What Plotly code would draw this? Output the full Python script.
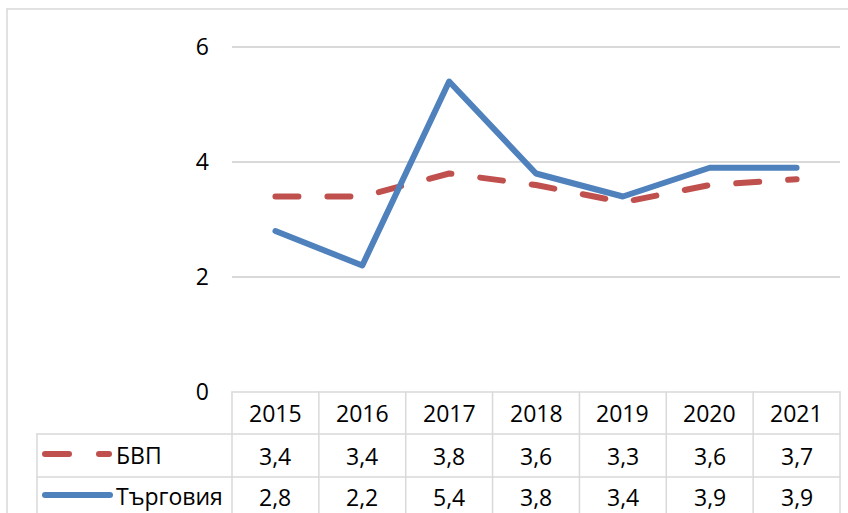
import plotly.graph_objects as go

years = ["2015", "2016", "2017", "2018", "2019", "2020", "2021"]
gdp = [3.4, 3.4, 3.8, 3.6, 3.3, 3.6, 3.7]
trade = [2.8, 2.2, 5.4, 3.8, 3.4, 3.9, 3.9]
series_names = ["БВП", "Търговия"]
y_ticks = [0, 2, 4, 6]

W, H = 848, 513
RED = "#C0504D"
BLUE = "#4F81BD"
GRID = "#D9D9D9"
FONT = "Open Sans"
FS = 23


def px(x):
    return x / W


def py(y):
    return 1 - y / H


def fmt(v):
    return f"{v:.1f}".replace(".", ",")


fig = go.Figure()
fig.add_trace(go.Scatter(x=list(range(len(years))), y=gdp, mode="lines",
                         line=dict(color=RED, width=6, dash="23px,29px"),
                         name=series_names[0]))
fig.add_trace(go.Scatter(x=list(range(len(years))), y=trade, mode="lines",
                         line=dict(color=BLUE, width=6),
                         name=series_names[1]))

shapes = []
ln = dict(color=GRID, width=1.5)
shapes.append(dict(type="line", xref="paper", yref="paper", x0=px(7), x1=1.01, y0=py(9), y1=py(9), line=ln))
shapes.append(dict(type="line", xref="paper", yref="paper", x0=px(7), x1=px(7), y0=py(9), y1=-0.01, line=ln))
col_edges = [232 + i * (840 - 232) / len(years) for i in range(len(years) + 1)]
shapes.append(dict(type="line", xref="paper", yref="paper", x0=px(232), x1=px(840), y0=py(392), y1=py(392), line=ln))
for yy in (434, 477):
    shapes.append(dict(type="line", xref="paper", yref="paper", x0=px(37), x1=px(840), y0=py(yy), y1=py(yy), line=ln))
for xe in col_edges:
    shapes.append(dict(type="line", xref="paper", yref="paper", x0=px(xe), x1=px(xe), y0=py(392), y1=-0.01, line=ln))
shapes.append(dict(type="line", xref="paper", yref="paper", x0=px(37), x1=px(37), y0=py(434), y1=-0.01, line=ln))
shapes.append(dict(type="line", xref="paper", yref="paper", x0=px(45), x1=px(69), y0=py(454), y1=py(454),
                   line=dict(color=RED, width=6)))
shapes.append(dict(type="line", xref="paper", yref="paper", x0=px(99), x1=px(109), y0=py(454), y1=py(454),
                   line=dict(color=RED, width=6)))
shapes.append(dict(type="line", xref="paper", yref="paper", x0=px(45), x1=px(110), y0=py(495), y1=py(495),
                   line=dict(color=BLUE, width=6)))

annotations = []
tf = dict(family=FONT, size=FS, color="#000000")
for i, yr in enumerate(years):
    annotations.append(dict(x=i, y=py(413), xref="x", yref="paper", text=yr, showarrow=False, font=tf,
                            xanchor="center", yanchor="middle"))
    annotations.append(dict(x=i, y=py(456), xref="x", yref="paper", text=fmt(gdp[i]), showarrow=False, font=tf,
                            xanchor="center", yanchor="middle"))
    annotations.append(dict(x=i, y=py(497), xref="x", yref="paper", text=fmt(trade[i]), showarrow=False, font=tf,
                            xanchor="center", yanchor="middle"))
annotations.append(dict(x=px(114), y=py(455), xref="paper", yref="paper", text=series_names[0], showarrow=False,
                        font=tf, xanchor="left", yanchor="middle"))
annotations.append(dict(x=px(114), y=py(496), xref="paper", yref="paper", text=series_names[1], showarrow=False,
                        font=tf, xanchor="left", yanchor="middle"))

fig.update_layout(
    width=W, height=H,
    margin=dict(l=0, r=0, t=0, b=0, pad=0, autoexpand=False),
    paper_bgcolor="white", plot_bgcolor="white",
    showlegend=False,
    shapes=shapes,
    annotations=annotations,
    xaxis=dict(domain=[px(232), px(840)], range=[-0.5, len(years) - 0.5], showticklabels=False,
               showgrid=False, zeroline=False, showline=False, fixedrange=True, automargin=False, ticks=""),
    yaxis=dict(domain=[py(392), py(9)], range=[0, 383 / 57.5], tickvals=y_ticks,
               ticktext=[str(t) for t in y_ticks], showgrid=True, gridcolor=GRID, gridwidth=1.5,
               zeroline=False, showline=False, tickfont=tf, ticks="", ticklabelstandoff=22,
               fixedrange=True, automargin=False),
)

post = """
document.documentElement.style.margin = '0';
document.body.style.margin = '0';
document.body.style.overflow = 'hidden';
var st = document.createElement('style');
st.textContent = '.scatterlayer path.js-line, .shapelayer path { stroke-linecap: round !important; stroke-linejoin: round !important; }';
document.head.appendChild(st);
"""
fig.write_html("out.html", post_script=post, config={"displayModeBar": False})
